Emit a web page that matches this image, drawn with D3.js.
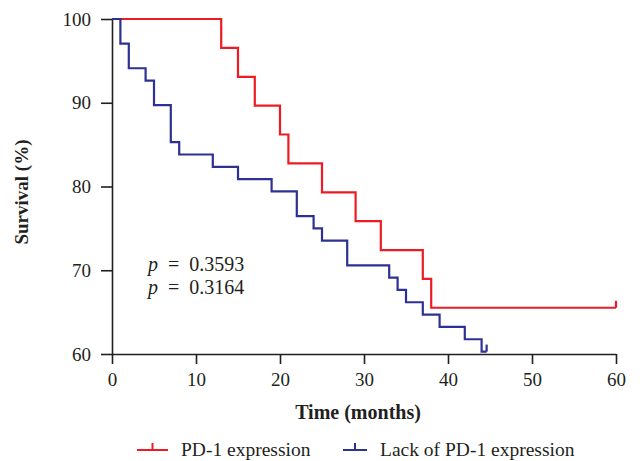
<!DOCTYPE html>
<html>
<head>
<meta charset="utf-8">
<script src="https://cdn.jsdelivr.net/npm/d3@7"></script>
<style>
  html, body { margin: 0; padding: 0; background: #fff; }
  svg { display: block; }
  svg text { font-family: "Liberation Serif", "Times New Roman", serif !important; fill: #231f20; }
</style>
</head>
<body>
<svg id="chart" width="640" height="461"></svg>
<script>
// ---- data ----
const seriesNames = ["PD-1 expression", "Lack of PD-1 expression"];
const pd1Times  = [0, 13, 15, 17, 20, 21, 25, 29, 32, 37, 38, 60];
const pd1Surv   = [100, 96.55, 93.10, 89.66, 86.21, 82.76, 79.31, 75.86, 72.41, 68.97, 65.52, 65.52];
const pd1Censor = [60];
const lackTimes = [0, 1, 2, 4, 5, 7, 8, 12, 15, 19, 22, 24, 25, 28, 33, 34, 35, 37, 39, 42, 44, 44.6];
const lackSurv  = [100, 97.06, 94.12, 92.65, 89.71, 85.29, 83.82, 82.35, 80.88, 79.41, 76.47, 75.00, 73.53, 70.59, 69.12, 67.65, 66.18, 64.71, 63.24, 61.76, 60.29, 60.29];
const lackCensor = [44.6];
const xTicks = [0, 10, 20, 30, 40, 50, 60];
const yTicks = [60, 70, 80, 90, 100];
const pValues = ["0.3593", "0.3164"];
const colors = ["#ed1c24", "#2e3192"];

// ---- layout ----
const FONT = "Liberation Serif, Times New Roman, serif";
const svg = d3.select("#chart");
const x = d3.scaleLinear().domain([0, 60]).range([112, 616]);
const y = d3.scaleLinear().domain([60, 100]).range([354, 19]);

const series = [
  { name: seriesNames[0], times: pd1Times, surv: pd1Surv, censor: pd1Censor, color: colors[0] },
  { name: seriesNames[1], times: lackTimes, surv: lackSurv, censor: lackCensor, color: colors[1] }
];

// axes
const xAxis = svg.append("g").attr("transform", `translate(0,${y(60)})`)
  .call(d3.axisBottom(x).tickValues(xTicks).tickSize(10).tickSizeOuter(0).tickPadding(9));
const yAxis = svg.append("g").attr("transform", `translate(${x(0)},0)`)
  .call(d3.axisLeft(y).tickValues(yTicks).tickSize(11).tickSizeOuter(0).tickPadding(10));
[xAxis, yAxis].forEach(g => {
  g.attr("font-family", FONT).attr("font-size", 19);
  g.select(".domain").attr("stroke", "#231f20").attr("stroke-width", 1.6);
  g.selectAll(".tick line").attr("stroke", "#231f20").attr("stroke-width", 1.6);
  g.selectAll(".tick text").attr("font-family", FONT).attr("font-size", 19).attr("fill", "#231f20");
});

// survival curves
const line = d3.line().curve(d3.curveStepAfter).x(d => x(d[0])).y(d => y(d[1]));
series.forEach(s => {
  const pts = s.times.map((t, i) => [t, s.surv[i]]);
  svg.append("path").datum(pts)
    .attr("d", line).attr("fill", "none")
    .attr("stroke", s.color).attr("stroke-width", 2.2);
  s.censor.forEach(t => {
    const i = s.times.indexOf(t);
    svg.append("line")
      .attr("x1", x(t)).attr("x2", x(t))
      .attr("y1", y(s.surv[i])).attr("y2", y(s.surv[i]) - 7)
      .attr("stroke", s.color).attr("stroke-width", 2.2);
  });
});

// p values
pValues.forEach((p, i) => {
  const t = svg.append("text").attr("x", 148).attr("y", 271 + i * 23)
    .attr("font-family", FONT).attr("font-size", 20);
  t.append("tspan").attr("font-style", "italic").text("p");
  t.append("tspan").text("\u2002=\u2002" + p);
});

// axis titles
svg.append("text").attr("x", 358).attr("y", 419).attr("text-anchor", "middle")
  .attr("font-family", FONT).attr("font-size", 20).attr("font-weight", "bold").text("Time (months)");
svg.append("text").attr("transform", "translate(28,192) rotate(-90)").attr("text-anchor", "middle")
  .attr("font-family", FONT).attr("font-size", 19).attr("font-weight", "bold").text("Survival (%)");

// legend
const legendX = [137, 343];
const legendW = [31, 24];
series.forEach((s, i) => {
  const g = svg.append("g").attr("transform", `translate(${legendX[i]},450)`);
  g.append("line").attr("x1", 0).attr("x2", legendW[i]).attr("y1", 0).attr("y2", 0)
    .attr("stroke", s.color).attr("stroke-width", 2);
  g.append("line").attr("x1", legendW[i] / 2).attr("x2", legendW[i] / 2).attr("y1", 0).attr("y2", -7)
    .attr("stroke", s.color).attr("stroke-width", 2);
  g.append("text").attr("x", legendW[i] + 13).attr("y", 6)
    .attr("font-family", FONT).attr("font-size", 19.5).text(s.name);
});
</script>
</body>
</html>
